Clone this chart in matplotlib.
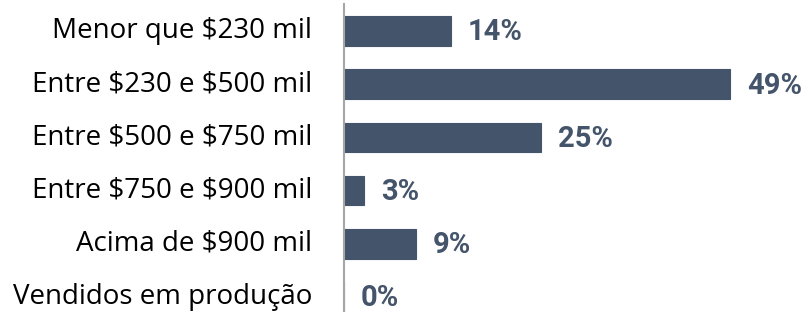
import matplotlib
matplotlib.use("Agg")
import matplotlib.pyplot as plt
import matplotlib.transforms as mtransforms

# dados
categorias = [
    "Menor que $230 mil",
    "Entre $230 e $500 mil",
    "Entre $500 e $750 mil",
    "Entre $750 e $900 mil",
    "Acima de $900 mil",
    "Vendidos em produção",
]
percentuais = [13.6, 49, 25, 2.6, 9.1, 0]

cor_barra = "#44546A"

plt.rcParams["font.family"] = ["Open Sans", "DejaVu Sans"]
plt.rcParams["text.parse_math"] = False  # os "$" são texto normal

fig = plt.figure(figsize=(8.05, 3.12), dpi=100)
# eixo começa em x=344 px; a última barra fica cortada embaixo
ax = fig.add_axes([344 / 805, -11.6 / 312, 461 / 805, 319.2 / 312])

pos = list(range(len(categorias)))
ax.barh(pos, percentuais, height=0.56, color=cor_barra,
        edgecolor=cor_barra, linewidth=0.8)

for y, v in zip(pos, percentuais):
    ax.annotate(f"{v:.0f}%", xy=(v, y), xytext=(12, -1), textcoords="offset points",
                ha="left", va="center", fontsize=21, fontweight="bold",
                family=["Roboto", "DejaVu Sans"], color=cor_barra)

ax.set_xlim(0, 461 / 7.88)
ax.set_ylim(len(categorias) - 0.5, -0.5)
ax.set_yticks(pos)
ax.set_yticklabels(categorias, fontsize=20, color="black")
ax.tick_params(axis="y", length=0, pad=23)
ax.set_xticks([])

# sobe um pouco os rótulos para a cedilha não ser cortada
desloc = mtransforms.ScaledTranslation(0, 2.5 / 72, fig.dpi_scale_trans)
for lbl in ax.get_yticklabels():
    lbl.set_transform(lbl.get_transform() + desloc)

for s in ["top", "right", "bottom"]:
    ax.spines[s].set_visible(False)
ax.spines["left"].set_color("#A6A6A6")
ax.spines["left"].set_linewidth(1.5)

fig.savefig("out.png", dpi=100)
